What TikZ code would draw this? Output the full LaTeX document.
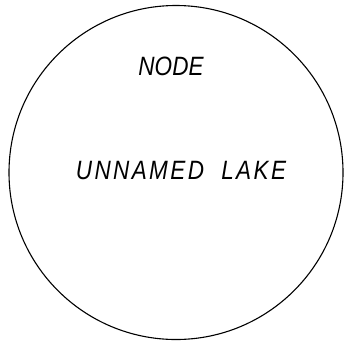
\documentclass[tikz,border=0pt]{standalone}
\usepackage{fontspec}
\newfontfamily\lakefont[FakeStretch=0.85]{Liberation Sans}
\usetikzlibrary{positioning}

\begin{document}
\begin{tikzpicture}[
  x=1pt, y=-1pt,
  lake/.style={draw, circle, line width=1.1pt, minimum size=334pt, inner sep=0pt},
  lbl/.style={font=\lakefont\itshape\fontsize{26.5}{30}\selectfont, inner sep=0pt}
]
  \useasboundingbox (0,0) rectangle (344,341);
  \node[lake] (lake) at (176,172.5) {};
  \node[lbl] (kind) at (171,66) {NODE};
  \node[lbl, font=\lakefont\itshape\fontsize{26.5}{30}\selectfont\addfontfeature{LetterSpace=9}]
    (name) at (181,171) {UNNAMED\ \ LAKE};
\end{tikzpicture}
\end{document}
